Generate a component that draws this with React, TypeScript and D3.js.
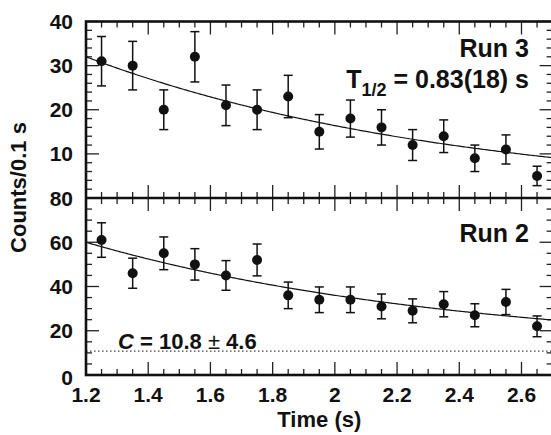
import React from "react";
import * as d3 from "d3";

// ---------- data ----------
const times = [1.25, 1.35, 1.45, 1.55, 1.65, 1.75, 1.85, 1.95, 2.05, 2.15, 2.25, 2.35, 2.45, 2.55, 2.65];
const run3Counts = [31, 30, 20, 32, 21, 20, 23, 15, 18, 16, 12, 14, 9, 11, 5];
const run3Errors = [5.6, 5.5, 4.5, 5.7, 4.6, 4.5, 4.8, 3.9, 4.2, 4.0, 3.5, 3.7, 3.0, 3.3, 2.2];
const run2Counts = [61, 46, 55, 50, 45, 52, 36, 34, 34, 31, 29, 32, 27, 33, 22];
const run2Errors = [7.8, 6.8, 7.4, 7.1, 6.7, 7.2, 6.0, 5.8, 5.8, 5.6, 5.4, 5.7, 5.2, 5.7, 4.7];

// fit parameters
const halfLife = 0.83;
const run3Amp = 32.0;
const run3Const = 0.0;
const run2Amp = 49.2;
const run2Const = 10.8;

const xTickValues = [1.2, 1.4, 1.6, 1.8, 2.0, 2.2, 2.4, 2.6];
const xTickLabels = ["1.2", "1.4", "1.6", "1.8", "2", "2.2", "2.4", "2.6"];
const topTickValues = [10, 20, 30, 40];
const topTickLabels = ["10", "20", "30", "40"];
const botTickValues = [0, 20, 40, 60, 80];
const botTickLabels = ["0", "20", "40", "60", "80"];

// ---------- layout ----------
const W = 551, H = 435;
const L = 86, R = 552.6, T = 21.5, M = 198, B = 375;
const FONT = "'Liberation Sans', Arial, Helvetica, sans-serif";
const MAJ = 13, MIN = 6;

export default function App() {
  const x = d3.scaleLinear().domain([1.2, 2.7]).range([L, R]);
  const yTop = d3.scaleLinear().domain([0, 40]).range([M, T]);
  const yBot = d3.scaleLinear().domain([0, 80]).range([B, M]);

  const xMinor = d3.range(1.25, 2.7, 0.05).filter(v => Math.abs(Math.round(v * 5) - v * 5) > 1e-6);
  const topMinor = d3.range(2, 40, 2).filter(v => v % 10 !== 0);
  const botMinor = d3.range(5, 80, 5).filter(v => v % 20 !== 0);

  const lam = Math.LN2 / halfLife;
  const ts = d3.range(0, 301).map(i => 1.2 + (1.5 * i) / 300);
  const line3 = d3.line<number>().x(t => x(t)).y(t => yTop(run3Const + run3Amp * Math.exp(-lam * (t - 1.2))));
  const line2 = d3.line<number>().x(t => x(t)).y(t => yBot(run2Const + run2Amp * Math.exp(-lam * (t - 1.2))));

  const tickStroke = { stroke: "#222", strokeWidth: 1.3 };

  const xTicks = (y0: number, dir: number, key: string) => (
    <g key={key}>
      {xTickValues.map(v => (
        <line key={"M" + v} x1={x(v)} x2={x(v)} y1={y0} y2={y0 + dir * MAJ} {...tickStroke} />
      ))}
      {xMinor.map(v => (
        <line key={"m" + v} x1={x(v)} x2={x(v)} y1={y0} y2={y0 + dir * MIN} {...tickStroke} />
      ))}
    </g>
  );

  const yTicks = (scale: d3.ScaleLinear<number, number>, majors: number[], minors: number[], key: string) => (
    <g key={key}>
      {majors.map(v => (
        <g key={"M" + v}>
          <line x1={L} x2={L + MAJ} y1={scale(v)} y2={scale(v)} {...tickStroke} />
          <line x1={R} x2={R - MAJ} y1={scale(v)} y2={scale(v)} {...tickStroke} />
        </g>
      ))}
      {minors.map(v => (
        <g key={"m" + v}>
          <line x1={L} x2={L + MIN} y1={scale(v)} y2={scale(v)} {...tickStroke} />
          <line x1={R} x2={R - MIN} y1={scale(v)} y2={scale(v)} {...tickStroke} />
        </g>
      ))}
    </g>
  );

  const points = (scale: d3.ScaleLinear<number, number>, vals: number[], errs: number[], key: string) => (
    <g key={key}>
      {times.map((t, i) => {
        const cx = x(t);
        const y1 = scale(vals[i] + errs[i]);
        const y2 = scale(vals[i] - errs[i]);
        return (
          <g key={i}>
            <line x1={cx} x2={cx} y1={y1} y2={y2} stroke="#111" strokeWidth={1.5} />
            <line x1={cx - 4.5} x2={cx + 4.5} y1={y1} y2={y1} stroke="#111" strokeWidth={1.5} />
            <line x1={cx - 4.5} x2={cx + 4.5} y1={y2} y2={y2} stroke="#111" strokeWidth={1.5} />
            <circle cx={cx} cy={scale(vals[i])} r={5} fill="#111" />
          </g>
        );
      })}
    </g>
  );

  return (
    <svg width={W} height={H} style={{ position: "absolute", left: 0, top: 0, background: "#fff" }} fontFamily={FONT}>
      <rect x={0} y={0} width={W} height={H} fill="#fff" />
      {/* ticks */}
      {xTicks(T, 1, "topx")}
      {xTicks(M, -1, "midup")}
      {xTicks(M, 1, "middown")}
      {xTicks(B, -1, "botx")}
      {yTicks(yTop, topTickValues, topMinor, "ytop")}
      {yTicks(yBot, botTickValues, botMinor, "ybot")}

      {/* background constant */}
      <line x1={L} x2={R} y1={yBot(run2Const)} y2={yBot(run2Const)} stroke="#111" strokeWidth={1} strokeDasharray="1.5,2.5" />

      {/* fit curves */}
      <path d={line3(ts) || ""} fill="none" stroke="#111" strokeWidth={1.2} />
      <path d={line2(ts) || ""} fill="none" stroke="#111" strokeWidth={1.2} />

      {points(yTop, run3Counts, run3Errors, "p3")}
      {points(yBot, run2Counts, run2Errors, "p2")}

      {/* frame */}
      <rect x={L} y={T} width={R - L} height={B - T} fill="none" stroke="#111" strokeWidth={2.6} />
      <line x1={L} x2={R} y1={M} y2={M} stroke="#111" strokeWidth={2.6} />

      {/* tick labels */}
      <g fontWeight="bold" fontSize={21} fill="#111">
        {xTickValues.map((v, i) => (
          <text key={"xl" + i} x={x(v)} y={402} textAnchor="middle">{xTickLabels[i]}</text>
        ))}
        {topTickValues.map((v, i) => (
          <text key={"ytl" + i} x={73} y={yTop(v) + 7.5} textAnchor="end">{topTickLabels[i]}</text>
        ))}
        {botTickValues.map((v, i) => (
          <text key={"ybl" + i} x={73} y={yBot(v) + 7.5 + (v === 0 ? 2 : 0)} textAnchor="end">{botTickLabels[i]}</text>
        ))}
      </g>

      {/* axis titles */}
      <text x={(L + R) / 2} y={427} textAnchor="middle" fontWeight="bold" fontSize={22} fill="#111">Time (s)</text>
      <text transform={`translate(26,187.5) rotate(-90)`} textAnchor="middle" fontWeight="bold" fontSize={22} fill="#111">Counts/0.1 s</text>

      {/* annotations */}
      <text x={529} y={57} textAnchor="end" fontWeight="bold" fontSize={25} fill="#111">Run 3</text>
      <text x={529} y={88} textAnchor="end" fontWeight="bold" fontSize={25} fill="#111">
        <tspan>T</tspan>
        <tspan dy={8} fontSize={18}>1/2</tspan>
        <tspan dy={-8}> = 0.83(18) s</tspan>
      </text>
      <text x={529} y={242} textAnchor="end" fontWeight="bold" fontSize={25} fill="#111">Run 2</text>
      <text x={118} y={349} fontWeight="bold" fontSize={22} fill="#111">
        <tspan fontStyle="italic">C</tspan>
        <tspan> = 10.8 </tspan>
        <tspan fontWeight="normal">±</tspan>
        <tspan> 4.6</tspan>
      </text>
    </svg>
  );
}
